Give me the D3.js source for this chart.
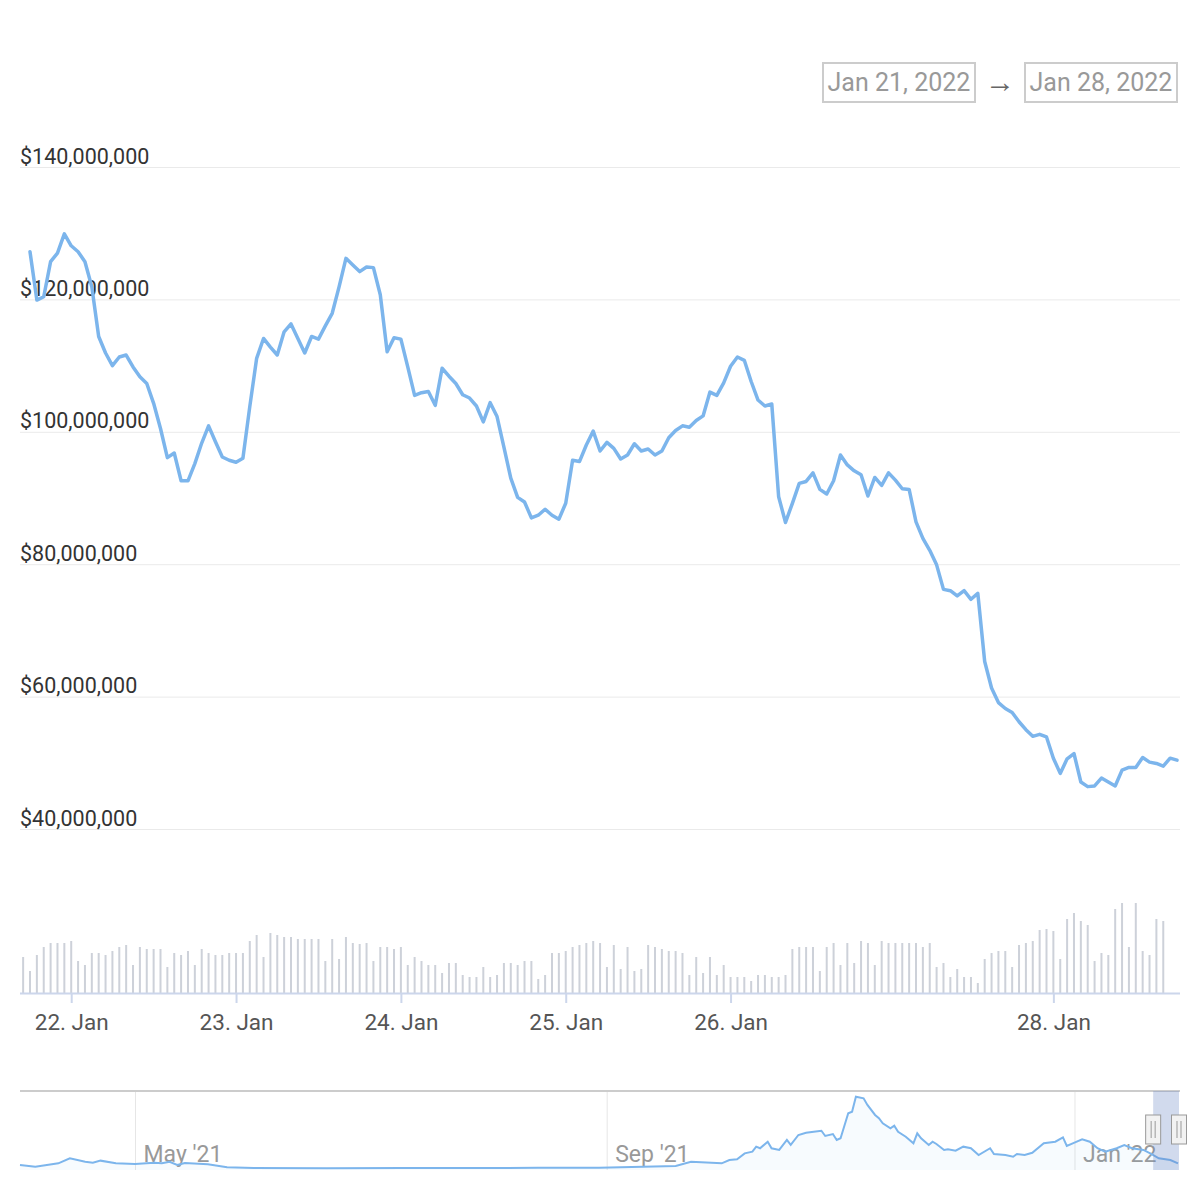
<!DOCTYPE html>
<html><head><meta charset="utf-8">
<script src="https://cdn.jsdelivr.net/npm/d3@7"></script>
<style>body{margin:0;background:#fff} svg{display:block;font-family:Roboto,'Noto Sans',sans-serif}</style>
</head><body><svg id="c" width="1200" height="1200"></svg>
<script>
// ---- data (values in millions USD) ----
const lineValues = [127.2,119.9,120.4,125.7,127.0,129.9,128.1,127.2,125.7,121.9,114.4,111.9,110.0,111.3,111.6,109.8,108.3,107.3,104.3,100.5,
96.1,96.8,92.6,92.6,95.2,98.3,100.9,98.5,96.2,95.7,95.4,96.0,103.8,111.1,114.1,112.8,111.6,115.1,116.3,114.1,
111.9,114.4,114.0,116.0,117.9,121.9,126.2,125.2,124.2,124.9,124.8,120.7,112.1,114.2,114.0,109.8,105.5,105.9,106.1,104.0,
109.6,108.4,107.3,105.6,105.1,103.9,101.5,104.4,102.3,97.7,93.0,90.1,89.4,87.0,87.4,88.3,87.4,86.8,89.2,95.7,
95.5,98.0,100.1,97.1,98.4,97.5,95.9,96.5,98.2,97.1,97.4,96.5,97.1,99.1,100.2,100.9,100.7,101.7,102.4,106.0,
105.5,107.4,109.9,111.3,110.8,107.6,104.8,103.9,104.2,90.2,86.3,89.2,92.2,92.5,93.8,91.3,90.6,92.6,96.5,95.0,
94.1,93.5,90.3,93.1,91.9,93.8,92.7,91.4,91.3,86.4,83.9,82.1,79.9,76.2,76.0,75.2,76.0,74.7,75.6,65.3,
61.3,59.1,58.2,57.6,56.2,55.0,54.0,54.3,53.9,50.7,48.4,50.6,51.4,47.1,46.4,46.5,47.7,47.1,46.5,48.9,
49.3,49.3,50.8,50.1,49.9,49.5,50.7,50.4];
const volumeStart = -1;
const volumeValues = [36,22,38,46,50,50,50,52,32,28,40,40,38,42,46,48,28,46,44,44,
44,26,40,38,42,28,44,40,38,38,40,40,40,52,58,36,60,58,56,56,
54,54,54,54,32,54,34,56,50,49,50,32,46,46,44,46,28,36,32,28,
28,20,30,30,18,16,16,26,16,18,30,30,28,32,32,14,18,40,40,42,
46,48,50,52,50,26,48,24,46,22,24,48,46,44,42,42,40,18,36,20,
36,18,28,16,16,16,12,18,18,16,16,18,44,46,46,46,22,46,50,28,
50,30,52,50,28,52,50,50,50,50,50,46,50,26,30,16,24,16,16,10,
34,40,42,42,26,48,50,52,63,64,62,34,74,80,72,68,32,40,38,84,
90,46,90,42,38,74,72];
const xTickIndex = [6,30,54,78,102,149];
const xTickLabels = ["22. Jan","23. Jan","24. Jan","25. Jan","26. Jan","28. Jan"];
const yTicks = [40,60,80,100,120,140];

const navDates = ["2021-04-01","2021-04-05","2021-04-11","2021-04-14","2021-04-18","2021-04-20","2021-04-22","2021-04-26","2021-05-01","2021-05-06",
"2021-05-08","2021-05-10","2021-05-12","2021-05-14","2021-05-20","2021-05-25","2021-06-01","2021-06-20","2021-07-10","2021-07-30",
"2021-08-14","2021-08-30","2021-09-19","2021-09-23","2021-10-01","2021-10-03","2021-10-05","2021-10-07","2021-10-09","2021-10-10",
"2021-10-11","2021-10-13","2021-10-14","2021-10-16","2021-10-18","2021-10-19","2021-10-21","2021-10-23","2021-10-25","2021-10-27",
"2021-10-28","2021-10-30","2021-10-31","2021-11-01","2021-11-03","2021-11-04","2021-11-05","2021-11-07","2021-11-08","2021-11-10",
"2021-11-11","2021-11-12","2021-11-14","2021-11-15","2021-11-16","2021-11-18","2021-11-20","2021-11-21","2021-11-22","2021-11-24",
"2021-11-25","2021-11-26","2021-11-28","2021-11-29","2021-12-01","2021-12-03","2021-12-05","2021-12-07","2021-12-10","2021-12-11",
"2021-12-14","2021-12-16","2021-12-17","2021-12-19","2021-12-21","2021-12-24","2021-12-27","2021-12-29","2021-12-30","2022-01-01",
"2022-01-03","2022-01-05","2022-01-07","2022-01-09","2022-01-12","2022-01-14","2022-01-16","2022-01-19","2022-01-21","2022-01-23",
"2022-01-26","2022-01-28"];
const navValues = [41,27,55,96,68,60,77,55,49,60,
55,68,41,58,47,22,17,15,17,16,
18,19,33,68,55,82,88,137,151,192,
179,233,179,165,247,206,288,307,315,323,
280,296,247,261,467,480,603,590,535,453,
426,384,343,365,315,274,220,302,261,206,
233,214,165,170,159,192,179,123,179,132,
123,109,132,123,142,220,233,269,198,225,
253,233,179,151,179,206,179,165,132,96,
82,55];
const navTickDates = ["2021-05-01","2021-09-01","2022-01-01"];
const navTickLabels = ["May '21","Sep '21","Jan '22"];
const rangeLabels = ["Jan 21, 2022","Jan 28, 2022"];
const rangeDates = ["2022-01-21","2022-01-28"];

// ---- drawing ----
const svg = d3.select("#c");
const parse = d3.utcParse("%Y-%m-%d");
const fmtMoney = v => "$" + d3.format(",")(Math.round(v*1e6));

const x = d3.scaleLinear().domain([0, lineValues.length-1]).range([30, 1177]);
const y = d3.scaleLinear().domain([40,140]).range([829,167]);
const yVol = d3.scaleLinear().domain([0,100]).range([993,893]);

// range selector boxes
const boxes = [{x:823,w:152},{x:1025,w:152}];
boxes.forEach((b,i)=>{
  svg.append("rect").attr("x",b.x).attr("y",63).attr("width",b.w).attr("height",39)
    .attr("fill","#fff").attr("stroke","#ccc").attr("stroke-width",2);
  svg.append("text").attr("x",b.x+b.w/2).attr("y",91).attr("text-anchor","middle")
    .attr("font-size",25).attr("fill","#999").text(rangeLabels[i]);
});
svg.append("text").attr("x",1000).attr("y",92).attr("text-anchor","middle")
  .attr("font-size",30).attr("fill","#666").text("→");

// y grid + labels
const gy = svg.append("g").attr("transform","translate(1180,0)")
  .call(d3.axisLeft(y).tickValues(yTicks).tickSize(1160).tickFormat(fmtMoney));
gy.select(".domain").remove();
gy.selectAll(".tick line").attr("stroke","#eaeaea").attr("stroke-width",1);
gy.selectAll(".tick text").attr("x",-1160).attr("y",-4).attr("dy",0).attr("text-anchor","start")
  .attr("font-size",21.5).attr("fill","#333").attr("font-family","Roboto");

// volume bars
svg.append("g").selectAll("rect").data(volumeValues).join("rect")
  .attr("x",(d,i)=>x(i+volumeStart)-1).attr("width",2)
  .attr("y",d=>yVol(d)).attr("height",d=>yVol(0)-yVol(d))
  .attr("fill","#cdd1d9");

// x axis
svg.append("line").attr("x1",20).attr("x2",1180).attr("y1",993.5).attr("y2",993.5)
  .attr("stroke","#ccd6eb").attr("stroke-width",2);
const gx = svg.append("g").attr("transform","translate(0,993)")
  .call(d3.axisBottom(x).tickValues(xTickIndex).tickSize(10).tickFormat((d,i)=>xTickLabels[i]));
gx.select(".domain").remove();
gx.selectAll(".tick line").attr("stroke","#ccd6eb").attr("stroke-width",2);
gx.selectAll(".tick text").attr("y",37).attr("dy",0).attr("font-size",22.5).attr("fill","#555").attr("font-family","Roboto");

// main line
svg.append("path").datum(lineValues)
  .attr("d", d3.line().x((d,i)=>x(i)).y(d=>y(d)))
  .attr("fill","none").attr("stroke","#7cb5ec").attr("stroke-width",3.5)
  .attr("stroke-linejoin","round").attr("stroke-linecap","round");

// navigator
const nx = d3.scaleUtc().domain([parse("2021-04-01"), parse("2022-01-28")]).range([20,1178]);
const ny = d3.scaleLinear().domain([0,650]).range([1170,1091]);
const navData = navDates.map((d,i)=>({t:parse(d), v:navValues[i]}));

const gn = svg.append("g").attr("transform","translate(0,1170)")
  .call(d3.axisBottom(nx).tickValues(navTickDates.map(parse)).tickSize(-79).tickFormat((d,i)=>navTickLabels[i]));
gn.select(".domain").remove();
gn.selectAll(".tick line").attr("stroke","#e6e6e6").attr("stroke-width",1);
gn.selectAll(".tick text").attr("x",8).attr("y",-8).attr("dy",0).attr("text-anchor","start")
  .attr("font-size",23).attr("fill","#999").attr("font-family","Roboto");

svg.append("path").datum(navData)
  .attr("d", d3.area().x(d=>nx(d.t)).y0(ny(0)).y1(d=>ny(d.v)))
  .attr("fill","rgba(124,181,236,0.06)");
svg.append("path").datum(navData)
  .attr("d", d3.line().x(d=>nx(d.t)).y(d=>ny(d.v)))
  .attr("fill","none").attr("stroke","#7cb5ec").attr("stroke-width",2);

svg.append("line").attr("x1",20).attr("x2",1180).attr("y1",1091).attr("y2",1091)
  .attr("stroke","#ccc").attr("stroke-width",2);

const mx0 = nx(parse(rangeDates[0]))+2, mx1 = 1179;
svg.append("rect").attr("x",mx0).attr("y",1091).attr("width",mx1-mx0).attr("height",79)
  .attr("fill","rgba(102,133,194,0.3)");
[mx0, mx1].forEach(cx=>{
  svg.append("rect").attr("x",cx-7.5).attr("y",1115).attr("width",15).attr("height",29)
    .attr("fill","#f2f2f2").attr("stroke","#999").attr("stroke-width",1);
  [-2,2].forEach(o=>svg.append("line").attr("x1",cx+o).attr("x2",cx+o).attr("y1",1121).attr("y2",1138)
    .attr("stroke","#999").attr("stroke-width",1));
});
</script></body></html>
